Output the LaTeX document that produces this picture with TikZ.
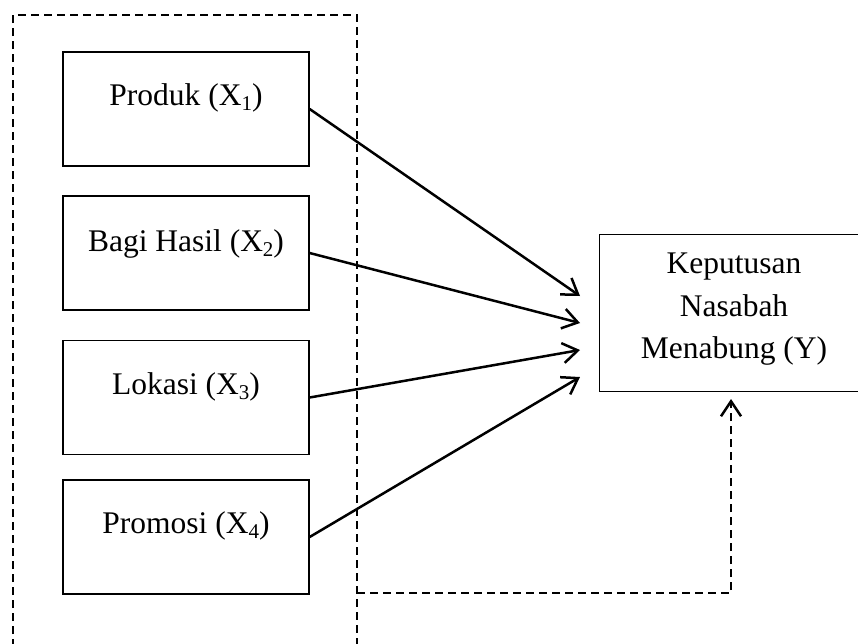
\documentclass[tikz,border=0pt]{standalone}
\usepackage{fontspec}
\setmainfont{Liberation Serif}
\usetikzlibrary{arrows.meta,calc}
\newcommand\sbs[1]{\raisebox{-0.17em}{\fontsize{21}{21}\selectfont #1}}
\begin{document}
\begin{tikzpicture}[x=1pt,y=-1pt,
  box/.style={draw, line width=1.3pt, inner sep=0pt, minimum width=246pt, minimum height=114pt},
  lbl/.style={anchor=base, inner sep=0pt, font=\fontsize{31.5}{40}\selectfont},
  dsh/.style={line width=2.2pt, dash pattern=on 8pt off 5pt},
  arr/.style={line width=2.5pt, -{Straight Barb[length=15pt,width=20pt,line width=2.5pt]}},
  darr/.style={dsh, -{Straight Barb[length=15pt,width=20pt,line width=2.5pt,sep=0pt]}}]
\useasboundingbox (0,0) rectangle (858,643);
\clip (0,0) rectangle (858,643);
% dashed frame (open at the bottom)
\coordinate (fbl) at (13,660);
\coordinate (ftl) at (13,15);
\coordinate (ftr) at (357,15);
\coordinate (fbr) at (357,660);
\draw[dsh] (fbl) -- (ftl) -- (ftr) -- (fbr);
% left boxes
\node[box] (p1) at (186,109) {};
\node[box] (p2) at (186,253) {};
\node[box] (p3) at (186,397.5) {};
\node[box] (p4) at (186,537) {};
\node[lbl] (t1) at (186,105) {Produk (X\sbs{1})};
\node[lbl] (t2) at (186,251) {Bagi Hasil (X\sbs{2})};
\node[lbl] (t3) at (186,394) {Lokasi (X\sbs{3})};
\node[lbl] (t4) at (186,533) {Promosi (X\sbs{4})};
% right box
\node[box, minimum width=268pt, minimum height=157pt, anchor=north west] (y) at (599,234) {};
\node[lbl] (y1) at (734,273) {Keputusan};
\node[lbl] (y2) at (734,316) {Nasabah};
\node[lbl] (y3) at (734,358) {Menabung (Y)};
% arrow ends
\coordinate (e1) at (580,296);
\coordinate (e2) at (580,323);
\coordinate (e3) at (580,350);
\coordinate (e4) at (580,377);
\draw[arr] (p1.east) -- (e1);
\draw[arr] (p2.east) -- (e2);
\draw[arr] (p3.east) -- (e3);
\draw[arr] (p4.east) -- (e4);
% dashed joint arrow
\coordinate (ds) at (357,593);
\coordinate (dc) at (731,593);
\coordinate (de) at (731,399);
\draw[darr] (ds) -- (dc) -- (de);
\end{tikzpicture}
\end{document}
